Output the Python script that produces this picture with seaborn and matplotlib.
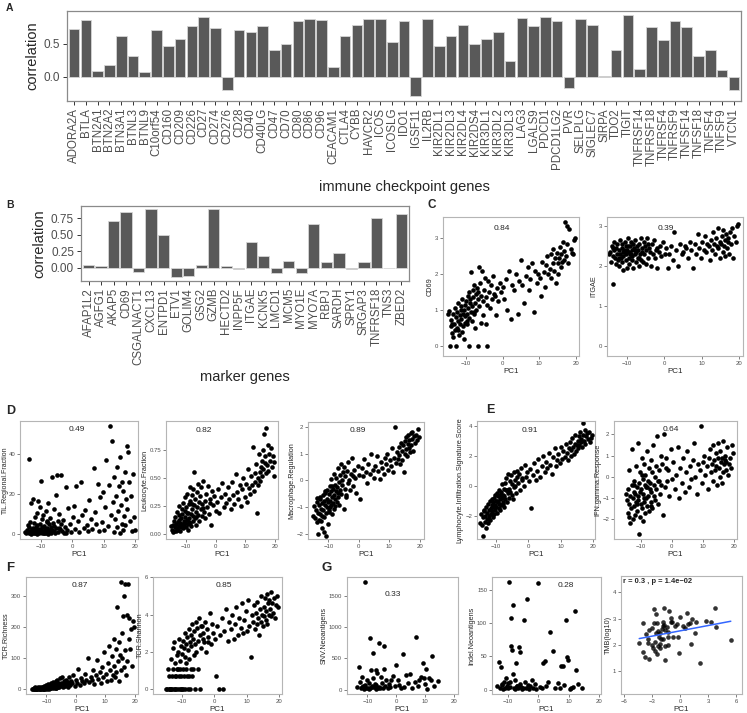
import matplotlib
matplotlib.use("Agg")
import matplotlib.pyplot as plt
from matplotlib.ticker import FormatStrFormatter
import seaborn as sns

sns.set_theme(style="white")
plt.rcParams["font.family"] = ["Liberation Sans", "DejaVu Sans"]

W, H = 747, 713

# --- A: immune checkpoint genes vs PC1 ---
checkpoint_genes = [
    "ADORA2A", "BTLA", "BTN2A1", "BTN2A2", "BTN3A1", "BTNL3", "BTNL9", "C10orf54",
    "CD160", "CD209", "CD226", "CD27", "CD274", "CD276", "CD28", "CD40", "CD40LG",
    "CD47", "CD70", "CD80", "CD86", "CD96", "CEACAM1", "CTLA4", "CYBB", "HAVCR2",
    "ICOS", "ICOSLG", "IDO1", "IGSF11", "IL2RB", "KIR2DL1", "KIR2DL3", "KIR2DL4",
    "KIR2DS4", "KIR3DL1", "KIR3DL2", "KIR3DL3", "LAG3", "LGALS9", "PDCD1", "PDCD1LG2",
    "PVR", "SELPLG", "SIGLEC7", "SIRPA", "TDO2", "TIGIT", "TNFRSF14", "TNFRSF18",
    "TNFRSF4", "TNFRSF9", "TNFSF14", "TNFSF18", "TNFSF4", "TNFSF9", "VTCN1",
]
checkpoint_corr = [
    0.72, 0.86, 0.09, 0.18, 0.61, 0.32, 0.07, 0.70,
    0.46, 0.57, 0.77, 0.91, 0.73, -0.20, 0.70, 0.67, 0.77,
    0.40, 0.50, 0.84, 0.88, 0.86, 0.14, 0.62, 0.79, 0.88,
    0.87, 0.52, 0.85, -0.30, 0.88, 0.46, 0.61, 0.78,
    0.50, 0.57, 0.67, 0.23, 0.89, 0.77, 0.91, 0.84,
    -0.18, 0.88, 0.78, 0.005, 0.41, 0.93, 0.11, 0.75,
    0.56, 0.85, 0.75, 0.31, 0.41, 0.10, -0.21,
]

# --- B: marker genes vs PC1 ---
marker_genes = [
    "AFAP1L2", "AGFG1", "AKAP5", "CD69", "CSGALNACT1", "CXCL13", "ENTPD1", "ETV1",
    "GOLIM4", "GSG2", "GZMB", "HECTD2", "INPP5F", "ITGAE", "KCNK5", "LMCD1", "MCM5",
    "MYO1E", "MYO7A", "RBPJ", "SARDH", "SPRY1", "SRGAP3", "TNFRSF18", "TNS3", "ZBED2",
]
marker_corr = [
    0.045, 0.035, 0.71, 0.845, -0.055, 0.88, 0.50, -0.14,
    -0.115, 0.045, 0.88, 0.025, -0.01, 0.39, 0.18, -0.075, 0.105,
    -0.07, 0.655, 0.095, 0.225, -0.01, 0.09, 0.745, -0.005, 0.805,
]

# --- C-F: per-sample PC1 and immune features ---
pc1 = [
    -14.6, -14.3, -14.1, -13.9, -13.7, -13.5, -13.4, -13.2, -13.0, -12.9,
    -12.7, -12.6, -12.4, -12.3, -12.1, -12.0, -11.8, -11.7, -11.5, -11.4,
    -11.3, -11.1, -11.0, -10.8, -10.7, -10.6, -10.4, -10.3, -10.2, -10.1,
    -9.9, -9.8, -9.6, -9.5, -9.4, -9.2, -9.1, -9.0, -8.8, -8.7,
    -8.6, -8.4, -8.3, -8.1, -8.0, -7.8, -7.7, -7.5, -7.4, -7.2,
    -7.1, -6.9, -6.8, -6.6, -6.4, -6.3, -6.1, -5.9, -5.8, -5.6,
    -5.4, -5.2, -5.0, -4.8, -4.6, -4.4, -4.1, -3.9, -3.6, -3.4,
    -3.1, -2.8, -2.5, -2.2, -1.9, -1.5, -1.2, -0.8, -0.4, 0.1,
    0.5, 0.9, 1.3, 1.8, 2.2, 2.7, 3.1, 3.6, 4.1, 4.6,
    5.0, 5.4, 5.9, 6.3, 6.8, 7.2, 7.6, 8.1, 8.5, 8.9,
    9.3, 9.7, 10.1, 10.5, 10.8, 11.2, 11.5, 11.9, 12.2, 12.5,
    12.8, 13.1, 13.3, 13.6, 13.8, 14.1, 14.3, 14.5, 14.8, 15.0,
    15.2, 15.4, 15.6, 15.8, 16.0, 16.2, 16.4, 16.6, 16.8, 17.0,
    17.2, 17.4, 17.6, 17.9, 18.2, 18.5, 18.8, 19.1, 19.4, 19.7,
    -14.9, -13.8, -12.2, -11.2, -9.7, -8.9, -7.9, -6.7, -4.3, -2.0,
]
cd69 = [
    0.98, 0.0, 0.55, 0.72, 0.35, 0.88, 0.25, 0.62, 1.05, 0.45,
    0.8, 0.0, 0.95, 0.5, 0.7, 1.2, 0.3, 0.85, 0.6, 1.1,
    0.75, 0.4, 1.3, 0.9, 0.55, 1.0, 0.2, 0.82, 1.15, 0.65,
    1.25, 0.9, 0.6, 1.4, 1.05, 0.78, 1.5, 0.0, 1.2, 0.95,
    2.05, 1.1, 0.7, 1.35, 1.55, 0.88, 1.7, 1.2, 0.5, 1.45,
    1.0, 1.6, 0.0, 1.3, 2.2, 1.1, 1.75, 0.65, 1.4, 2.1,
    1.25, 0.85, 1.55, 1.9, 0.6, 1.35, 0.0, 1.8, 1.5, 1.05,
    1.7, 1.3, 1.95, 1.45, 0.85, 1.6, 1.25, 1.75, 1.5, 1.65,
    1.3, 1.85, 1.0, 2.1, 0.75, 1.7, 1.55, 2.0, 0.9, 1.8,
    2.4, 1.7, 1.2, 1.95, 2.2, 1.55, 1.85, 2.3, 0.95, 2.1,
    1.75, 2.0, 1.9, 1.4, 2.35, 2.05, 1.65, 2.25, 2.5, 2.0,
    2.15, 2.55, 1.9, 2.3, 2.7, 2.1, 2.45, 1.75, 2.6, 2.3,
    2.0, 2.45, 2.75, 2.2, 2.55, 2.35, 2.9, 2.65, 2.4, 3.45,
    2.5, 2.85, 3.35, 2.3, 3.25, 2.7, 2.6, 2.55, 2.95, 3.0,
    0.9, 0.6, 0.45, 1.0, 0.7, 1.3, 0.95, 1.5, 1.15, 1.4,
]
itgae = [
    2.35, 2.1, 2.5, 1.55, 2.25, 2.4, 2.6, 2.2, 2.05, 2.45,
    2.3, 2.55, 2.15, 2.4, 2.0, 2.65, 2.3, 2.2, 2.45, 2.1,
    2.55, 2.25, 1.9, 2.4, 2.35, 2.6, 2.15, 2.5, 2.3, 1.95,
    2.4, 2.7, 2.2, 2.35, 2.05, 2.5, 2.3, 2.6, 2.15, 2.4,
    2.25, 2.55, 1.95, 2.45, 2.3, 2.65, 2.1, 2.35, 2.5, 2.2,
    2.4, 2.0, 2.55, 2.3, 2.15, 2.7, 2.35, 2.45, 2.1, 2.6,
    2.3, 2.5, 2.05, 2.4, 2.7, 2.2, 2.45, 2.35, 2.0, 2.55,
    2.3, 2.65, 2.2, 2.4, 1.95, 2.35, 2.5, 2.25, 2.6, 2.3,
    2.45, 1.95, 2.3, 2.5, 2.15, 2.85, 2.4, 2.0, 2.55, 2.3,
    2.35, 2.5, 2.45, 2.2, 2.6, 2.4, 1.95, 2.55, 2.3, 2.8,
    2.45, 2.2, 2.6, 2.4, 2.75, 2.35, 2.55, 2.5, 2.15, 2.65,
    2.4, 2.85, 2.55, 2.3, 2.7, 2.5, 2.95, 2.45, 2.6, 2.2,
    2.55, 2.75, 2.35, 2.9, 2.5, 2.65, 2.25, 2.8, 2.45, 2.6,
    2.7, 2.3, 2.85, 2.55, 2.95, 2.2, 2.75, 2.6, 3.0, 3.05,
    2.3, 2.45, 2.2, 2.35, 2.5, 2.3, 2.4, 2.2, 2.55, 2.45,
]
til_regional = [
    0.5, 2.1, 1.0, 4.5, 0.8, 37.5, 1.5, 6.0, 0.3, 15.5,
    2.5, 0.9, 17.5, 3.2, 1.2, 5.5, 0.6, 8.5, 2.0, 1.4,
    3.8, 0.4, 10.5, 1.8, 16.5, 2.6, 0.7, 5.0, 1.1, 13.5,
    26.8, 2.2, 0.5, 7.5, 3.5, 1.3, 9.5, 0.8, 4.2, 2.9,
    1.6, 11.5, 0.6, 3.0, 6.5, 1.9, 0.4, 15.5, 2.4, 5.2,
    1.0, 8.0, 3.6, 0.7, 28.5, 2.1, 5.8, 12.5, 1.5, 4.0,
    0.9, 19.5, 3.3, 29.5, 6.8, 1.2, 10.0, 2.7, 5.3, 29.5,
    1.8, 7.2, 0.6, 3.9, 23.5, 2.4, 13.0, 5.1, 1.4, 8.8,
    14.0, 2.6, 24.0, 6.5, 1.0, 26.0, 9.5, 3.3, 12.0, 4.8,
    1.9, 17.0, 7.8, 2.5, 33.0, 11.0, 5.2, 25.0, 1.5, 18.5,
    6.0, 21.0, 2.3, 13.5, 37.0, 4.0, 24.5, 54.0, 9.5, 46.5,
    16.0, 1.0, 28.5, 7.5, 19.0, 3.5, 33.5, 11.5, 24.0, 0.9,
    38.5, 14.5, 5.0, 26.0, 2.0, 21.5, 9.0, 31.0, 4.5, 17.5,
    44.0, 12.5, 41.0, 26.0, 6.5, 19.0, 1.5, 30.0, 8.5, 2.0,
    1.2, 3.8, 0.5, 4.5, 1.7, 0.9, 6.3, 2.2, 3.0, 0.7,
]
leukocyte = [
    0.04, 0.08, 0.02, 0.12, 0.06, 0.15, 0.03, 0.09, 0.2, 0.05,
    0.11, 0.04, 0.17, 0.07, 0.25, 0.1, 0.03, 0.14, 0.06, 0.22,
    0.09, 0.18, 0.05, 0.28, 0.12, 0.07, 0.21, 0.1, 0.33, 0.15,
    0.06, 0.24, 0.13, 0.36, 0.09, 0.19, 0.04, 0.27, 0.14, 0.42,
    0.1, 0.3, 0.18, 0.07, 0.35, 0.22, 0.12, 0.4, 0.16, 0.26,
    0.56, 0.14, 0.31, 0.2, 0.08, 0.38, 0.24, 0.17, 0.45, 0.29,
    0.12, 0.34, 0.22, 0.42, 0.16, 0.27, 0.48, 0.2, 0.3, 0.14,
    0.36, 0.24, 0.43, 0.18, 0.31, 0.08, 0.39, 0.26, 0.34, 0.21,
    0.29, 0.4, 0.19, 0.33, 0.46, 0.24, 0.36, 0.28, 0.42, 0.31,
    0.22, 0.47, 0.35, 0.27, 0.54, 0.38, 0.31, 0.44, 0.25, 0.4,
    0.5, 0.33, 0.45, 0.29, 0.58, 0.41, 0.36, 0.52, 0.44, 0.78,
    0.39, 0.55, 0.47, 0.63, 0.19, 0.5, 0.44, 0.72, 0.56, 0.48,
    0.6, 0.66, 0.52, 0.75, 0.58, 0.9, 0.64, 0.7, 0.55, 0.95,
    0.62, 0.8, 0.57, 0.72, 0.66, 0.77, 0.6, 0.7, 0.65, 0.52,
    0.07, 0.03, 0.13, 0.08, 0.19, 0.11, 0.27, 0.15, 0.23, 0.28,
]
macrophage = [
    -0.95, -1.4, -1.1, -0.8, -1.55, -2.0, -1.2, -0.9, -1.45, -0.7,
    -1.25, -0.6, -1.05, -1.5, -0.85, -1.3, -0.55, -1.1, -0.75, -1.35,
    -1.9, -0.9, -0.45, -1.2, -2.05, -0.7, -1.0, -0.35, -1.6, -0.8,
    -0.5, -1.15, -0.2, -0.75, -1.0, -0.4, -0.9, 0.05, -0.6, -1.25,
    -0.3, -0.85, 0.25, -0.55, -1.05, -0.15, -0.7, 0.1, -0.4, -0.8,
    -0.25, 0.45, -0.6, -0.05, -0.9, 0.2, -0.35, 0.6, -0.5, 0.0,
    -0.15, 0.3, -1.05, 0.5, -0.3, 0.15, -0.55, 0.35, -0.1, 0.7,
    0.0, -0.35, 0.25, 0.85, -0.2, 0.4, 0.1, -0.45, 0.55, 0.2,
    -0.7, 0.45, 0.15, 0.8, 0.3, -0.1, 0.6, 0.25, 1.0, 0.4,
    0.1, 0.55, 0.9, 0.35, 0.05, 0.7, 0.45, 0.25, 0.85, 0.6,
    1.0, 0.4, 0.75, 0.55, 1.2, 0.3, 0.85, 2.0, 0.65, 1.05,
    0.8, 1.25, 0.95, 0.6, 1.4, 1.1, 0.75, 1.3, 0.3, 1.0,
    1.45, 1.15, 1.6, 0.9, 1.35, 1.7, 1.2, 1.5, 1.05, 1.75,
    1.3, 1.55, 1.8, 1.1, 1.65, 1.4, 1.7, 1.5, 1.9, 1.6,
    -1.3, -0.65, -1.75, -0.4, -1.1, -0.2, -0.95, -0.45, -0.6, 0.15,
]
lymphocyte = [
    -1.9, -2.6, -2.1, -3.3, -1.6, -2.4, -2.0, -2.8, -1.4, -2.2,
    -1.8, -2.5, -1.2, -2.0, -1.6, -2.3, -1.0, -1.9, -1.5, -0.9,
    -1.7, -1.1, -2.1, -1.4, -0.8, -1.9, -1.3, -0.6, -1.6, -1.0,
    -1.4, -0.5, -1.8, -1.1, -0.7, -1.5, -0.3, -1.2, -0.9, -1.6,
    -0.4, -1.3, -0.8, 0.1, -1.1, -0.6, -0.2, -1.4, -0.7, 0.2,
    -0.9, -0.3, 0.5, -1.1, -0.5, 0.8, -0.2, -0.8, 0.3, -0.4,
    0.7, -0.6, 0.1, -0.9, 0.9, -0.1, 0.4, -0.5, 0.6, 1.0,
    0.2, 0.8, -0.3, 1.2, 0.5, 0.0, 1.4, 0.6, 0.9, 0.3,
    1.1, -1.5, 0.7, 1.5, 0.4, 1.0, 1.8, 0.6, 1.3, 2.0,
    0.9, 1.6, 1.2, 2.2, 1.4, 0.8, 1.9, 2.5, 1.3, 1.7,
    2.1, 1.5, 2.6, 1.8, 2.3, 1.9, 2.8, 2.2, 1.7, 2.5,
    2.9, 2.0, 2.4, 3.2, 2.6, 2.1, 2.8, 3.4, 2.3, 2.7,
    3.0, 2.5, 3.3, 2.7, 3.6, 2.9, 3.1, 2.6, 3.4, 4.2,
    3.0, 3.7, 2.8, 3.3, 3.5, 3.1, 3.6, 2.9, 3.2, 3.4,
    -2.5, -1.7, -2.2, -1.3, -1.0, -0.6, -1.2, -0.3, 0.0, 0.4,
]
ifn_gamma = [
    -1.1, -0.6, -1.7, 0.3, -1.3, -2.2, -0.9, -1.5, -0.4, 1.3,
    -1.0, -2.0, -0.7, -1.4, -0.2, -1.8, -0.8, 0.5, -1.2, -0.5,
    -1.6, -0.9, 1.6, -1.1, -0.3, -2.7, -0.7, -1.9, 0.2, -1.3,
    -0.6, -1.5, 0.9, -0.8, -2.1, -0.1, -1.2, 0.6, -0.4, -1.7,
    0.1, -1.0, -0.5, 1.2, -1.4, -0.2, -0.9, 0.4, -1.6, -0.6,
    -0.3, 0.8, -1.2, -0.7, 0.2, -1.5, 1.5, -0.4, -0.9, 0.0,
    -1.1, 0.5, -0.6, 1.9, -0.2, -1.3, 0.3, -0.8, 1.0, -0.4,
    0.6, -1.8, 2.0, -0.5, 0.9, -0.2, 0.3, -0.9, 1.3, -0.1,
    0.7, -0.6, 0.1, 1.4, -1.0, 0.4, -0.3, 0.9, -0.7, 0.2,
    1.2, -0.5, 0.5, -0.1, 0.8, 1.6, 0.0, -0.8, 0.6, 0.3,
    2.4, -0.3, 0.7, 1.0, 0.1, 0.5, -0.6, 0.9, 1.3, 0.2,
    0.6, 1.5, -0.2, 0.8, 0.3, 1.1, 0.5, -0.4, 0.9, 1.6,
    0.4, 0.0, 1.2, 0.7, -0.3, 0.9, 1.7, 0.2, 0.6, 0.8,
    1.0, 0.3, 0.7, 1.4, 0.1, 0.6, 0.9, 0.4, 1.5, 1.1,
    -0.8, -1.9, -0.4, -1.3, 0.1, -1.0, -0.5, -1.4, -0.2, 0.4,
]
tcr_richness = [
    0, 2, 0, 5, 1, 0, 3, 1, 0, 6,
    2, 0, 4, 1, 8, 0, 3, 1, 5, 2,
    0, 7, 2, 1, 10, 3, 0, 6, 2, 12,
    4, 1, 9, 3, 15, 2, 6, 0, 11, 5,
    3, 18, 7, 2, 13, 5, 22, 8, 4, 16,
    10, 6, 25, 3, 14, 30, 8, 19, 5, 12,
    35, 9, 20, 14, 40, 6, 25, 18, 11, 30,
    15, 22, 8, 38, 12, 27, 18, 45, 10, 30,
    20, 65, 12, 35, 25, 18, 50, 30, 100, 22,
    40, 28, 60, 15, 45, 95, 32, 55, 20, 70,
    38, 120, 50, 25, 85, 140, 60, 30, 105, 45,
    75, 160, 40, 130, 55, 265, 90, 25, 150, 110,
    60, 345, 100, 180, 235, 70, 300, 125, 340, 45,
    240, 90, 340, 160, 230, 130, 195, 75, 220, 200,
    1, 0, 3, 1, 6, 2, 9, 4, 12, 20,
]
tcr_shannon = [
    0, 1.1, 0, 0.69, 0, 1.6, 0, 0.69, 0, 2.2,
    1.1, 0, 2.5, 0, 1.39, 0.69, 0, 1.8, 1.1, 0,
    2.0, 0.69, 2.7, 0, 1.1, 1.5, 0, 2.3, 0.69, 1.9,
    0, 2.6, 1.1, 2.2, 0.69, 3.0, 0, 1.7, 2.4, 1.1,
    2.8, 0.69, 2.1, 0, 3.2, 1.6, 2.5, 0, 2.9, 1.1,
    2.3, 3.5, 0.69, 2.7, 1.8, 3.1, 0, 2.4, 3.6, 2.0,
    3.3, 1.1, 2.6, 3.8, 0, 2.9, 2.2, 3.4, 2.7, 3.0,
    2.5, 3.6, 2.0, 3.2, 2.8, 4.1, 2.4, 3.5, 3.0, 2.7,
    0.69, 3.4, 0, 2.9, 3.8, 0, 3.1, 4.3, 2.6, 3.6,
    3.2, 4.0, 2.7, 3.5, 4.4, 2.9, 3.8, 3.3, 4.6, 3.0,
    3.7, 4.2, 3.1, 4.8, 3.4, 1.7, 4.0, 3.6, 4.5, 3.2,
    4.1, 3.5, 4.7, 3.8, 2.9, 4.3, 3.6, 5.0, 4.0, 3.4,
    4.4, 3.9, 4.9, 3.7, 4.2, 5.1, 3.5, 4.6, 4.0, 4.8,
    4.3, 5.2, 3.9, 4.6, 4.1, 4.9, 3.8, 4.5, 5.0, 4.4,
    0, 0, 0.69, 1.1, 0, 1.39, 0.69, 1.1, 3.4, 2.5,
]

# --- G: neoantigens and TMB ---
neo_pc1 = [
    -13.5, -13.0, -12.6, -12.3, -12.0, -11.6, -11.2, -11.0, -10.7, -10.4,
    -10.1, -9.8, -9.5, -9.3, -9.0, -8.8, -8.6, -8.4, -8.2, -8.0,
    -7.7, -7.5, -7.2, -7.0, -6.7, -6.4, -6.1, -5.9, -5.6, -5.3,
    -5.0, -4.7, -4.4, -4.1, -3.8, -3.4, -3.0, -2.6, -2.2, -1.7,
    -1.2, -0.6, 0.0, 0.5, 1.1, 1.7, 2.2, 2.6, 3.2, 4.0,
    4.8, 5.6, 6.4, 7.0, 7.5, 8.0, 8.6, 9.1, 9.5, 9.9,
    10.3, 10.8, 11.4, 12.0, 12.5, 13.0, 14.5, -11.8, -9.2, -6.9,
]
snv_neo = [
    40, 370, 120, 30, 210, 60, 15, 1720, 80, 20,
    150, 35, 100, 10, 830, 320, 60, 45, 580, 180,
    45, 90, 320, 15, 270, 30, 740, 50, 20, 210,
    110, 30, 330, 700, 60, 160, 20, 90, 40, 150,
    220, 60, 390, 150, 80, 30, 570, 40, 230, 100,
    250, 30, 120, 850, 60, 150, 200, 420, 180, 90,
    335, 5, 190, 160, 532, 60, 133, 50, 25, 70,
]
indel_neo = [
    5, 42, 2, 34, 8, 1, 12, 3, 18, 6,
    2, 10, 162, 4, 108, 65, 60, 127, 24, 3,
    1, 14, 40, 6, 2, 64, 9, 57, 4, 1,
    3, 105, 12, 2, 137, 7, 1, 5, 15, 3,
    8, 1, 160, 4, 2, 40, 43, 6, 12, 87,
    58, 3, 10, 2, 35, 35, 7, 105, 49, 45,
    1, 3, 4, 118, 30, 9, 2, 7, 12, 5,
]
tmb_pc1 = [
    -4.4, -4.0, -3.7, -4.0, -3.8, -3.3, -3.5, -3.3, -3.0, -2.8,
    -2.6, -2.8, -2.5, -2.7, -2.9, -2.7, -2.5, -2.4, -2.3, -2.2,
    -2.2, -2.1, -1.9, -1.9, -1.8, -1.6, -1.6, -1.4, -1.3, -1.3,
    -1.2, -1.0, -0.9, -0.8, -0.4, 0.0, -0.1, 0.5, 0.7, 0.8,
    1.0, 1.1, 1.7, 1.6, 2.1, 2.8, 3.3, 3.7, 3.8, 5.4,
    -3.5, -2.6, -2.0, -1.7, -1.9, -1.0, -0.6, -1.3, -2.2, -3.0,
    -0.3, 0.3, 1.3, -1.6, -2.4,
]
tmb_log10 = [
    2.06, 2.82, 2.41, 1.72, 1.53, 1.46, 2.22, 2.57, 2.62, 3.36,
    3.18, 2.82, 2.82, 2.09, 1.87, 1.75, 1.66, 2.54, 2.29, 2.03,
    1.86, 2.22, 2.73, 2.87, 3.39, 1.94, 1.40, 2.67, 2.47, 2.30,
    3.28, 3.01, 2.87, 2.29, 2.79, 3.05, 1.68, 2.62, 3.23, 2.80,
    2.82, 2.03, 2.85, 2.44, 1.30, 2.91, 2.85, 3.39, 2.67, 2.19,
    2.05, 2.45, 2.60, 2.75, 2.20, 2.85, 2.70, 2.00, 2.45, 2.00,
    2.30, 2.70, 3.00, 2.55, 1.95,
]

fig = plt.figure(figsize=(W / 100, H / 100), dpi=100)


def px_axes(l, t, r, b):
    """Axes from pixel box (left, top, right, bottom) measured on the reference."""
    return fig.add_axes([l / W, 1 - b / H, (r - l) / W, (b - t) / H])


def bar_panel(box, genes, corr, ylim, yticks, fmt, xlabel, label_size, xpad):
    ax = px_axes(*box)
    sns.barplot(x=genes, y=corr, color="#595959", saturation=1, width=0.9,
                edgecolor="#d6d6d6", linewidth=0.6, ax=ax)
    ax.set_xlim(-0.6, len(genes) - 0.4)
    ax.set_ylim(*ylim)
    ax.set_yticks(yticks)
    ax.yaxis.set_major_formatter(FormatStrFormatter(fmt))
    ax.tick_params(axis="both", bottom=True, left=True, length=3, width=0.7,
                   color="#333333", labelcolor="#4d4d4d", labelsize=8.5, pad=2)
    ax.tick_params(axis="x", rotation=90, labelsize=label_size)
    ax.set_xlabel(xlabel, fontsize=10.5, labelpad=xpad)
    ax.set_ylabel("correlation", fontsize=10.5, labelpad=3)
    for sp in ax.spines.values():
        sp.set_color("#8a8a8a")
        sp.set_linewidth(0.9)
    return ax


def scatter_style(ax, ylabel, xlim, ylim, xticks, yticks, fmt=None):
    ax.set_xlim(*xlim)
    ax.set_ylim(*ylim)
    ax.set_xticks(xticks)
    ax.set_yticks(yticks)
    if fmt:
        ax.yaxis.set_major_formatter(FormatStrFormatter(fmt))
    ax.tick_params(axis="both", bottom=True, left=True, length=2, width=0.5,
                   color="#4d4d4d", labelcolor="#4d4d4d", labelsize=4.3, pad=1.5)
    ax.set_xlabel("PC1", fontsize=5.8, labelpad=1.5)
    ax.set_ylabel(ylabel, fontsize=5.2, labelpad=1.0)
    for sp in ax.spines.values():
        sp.set_color("#b5b5b5")
        sp.set_linewidth(0.8)


def scatter_panel(box, x, y, ylabel, r_text, r_pos, xlim, ylim, xticks, yticks, fmt=None):
    ax = px_axes(*box)
    sns.scatterplot(x=x, y=y, color="black", s=11, linewidth=0, ax=ax)
    scatter_style(ax, ylabel, xlim, ylim, xticks, yticks, fmt)
    ax.text(r_pos[0], r_pos[1], r_text, transform=ax.transAxes,
            ha="center", va="center", fontsize=6)
    return ax


pc_ticks = [-10, 0, 10, 20]

bar_panel((67, 11, 741, 101), checkpoint_genes, checkpoint_corr,
          (-0.37, 0.995), [0.0, 0.5], "%.1f", "immune checkpoint genes", 8.3, 8)
bar_panel((81, 206, 409, 281), marker_genes, marker_corr,
          (-0.195, 0.93), [0.0, 0.25, 0.5, 0.75], "%.2f", "marker genes", 8.3, 4)

# C
scatter_panel((443, 217, 579, 356), pc1, cd69, "CD69", "0.84", (0.43, 0.92),
              (-16.2, 20.8), (-0.28, 3.59), pc_ticks, [0, 1, 2, 3])
scatter_panel((607, 217, 743, 356), pc1, itgae, "ITGAE", "0.39", (0.43, 0.92),
              (-15.4, 21.1), (-0.25, 3.22), pc_ticks, [0, 1, 2, 3])
# D
ax_d1 = scatter_panel((20, 421, 138, 539), pc1, til_regional, "TIL.Regional.Fraction", "0.49",
                      (0.48, 0.93), (-16.5, 20.8), (-2.3, 56.6), pc_ticks, [0, 20, 40])
ax_d1.yaxis.label.set_fontsize(5.0)
ax_d1.yaxis.set_label_coords(-0.092, 0.5)
scatter_panel((166, 421, 278, 539), pc1, leukocyte, "Leukocyte.Fraction", "0.82", (0.34, 0.92),
              (-16.6, 20.9), (-0.045, 1.015), pc_ticks, [0, 0.25, 0.5, 0.75], "%.2f")
scatter_panel((308, 422, 424, 539), pc1, macrophage, "Macrophage.Regulation", "0.89", (0.43, 0.93),
              (-16.7, 21.4), (-2.17, 2.17), pc_ticks, [-2, -1, 0, 1, 2])
# E
scatter_panel((477, 421, 595, 539), pc1, lymphocyte, "Lymphocyte.Infiltration.Signature.Score", "0.91",
              (0.45, 0.92), (-15.9, 20.6), (-3.53, 4.3), pc_ticks, [-2, 0, 2, 4])
scatter_panel((614, 421, 737, 539), pc1, ifn_gamma, "IFN.gamma.Response", "0.64", (0.46, 0.925),
              (-18.7, 21.0), (-2.94, 2.63), pc_ticks, [-2, -1, 0, 1, 2])
# F
scatter_panel((26, 577, 138, 694), pc1, tcr_richness, "TCR.Richness", "0.87", (0.48, 0.93),
              (-16.9, 21.1), (-16, 361), pc_ticks, [0, 100, 200, 300])
scatter_panel((153, 577, 282, 694), pc1, tcr_shannon, "TCR.Shannon", "0.85", (0.55, 0.93),
              (-19.0, 20.9), (-0.27, 6.02), pc_ticks, [0, 2, 4, 6])
# G
scatter_panel((347, 577, 458, 694), neo_pc1, snv_neo, "SNV.Neoantigens", "0.33", (0.41, 0.85),
              (-17.1, 21.4), (-69, 1803), pc_ticks, [0, 500, 1000, 1500])
scatter_panel((492, 577, 601, 694), neo_pc1, indel_neo, "Indel.Neoantigens", "0.28", (0.68, 0.93),
              (-15.2, 20.6), (-6.5, 169.5), pc_ticks, [0, 50, 100, 150])

ax = px_axes(621, 576, 742, 694)
sns.regplot(x=tmb_pc1, y=tmb_log10, ci=None, ax=ax,
            scatter_kws=dict(s=11, color="black", linewidths=0),
            line_kws=dict(color="#3366FF", lw=1.1))
scatter_style(ax, "TMB(log10)", (-6.35, 6.6), (0.11, 4.63), [-6, -3, 0, 3, 6], [1, 2, 3, 4])
ax.text(0.02, 0.985, "r = 0.3 , p = 1.4e\u221202", transform=ax.transAxes,
        ha="left", va="top", fontsize=5.4, fontweight="bold")

# panel letters
for letter, (x, y), size in [("A", (6, 8), 7.5), ("B", (6, 205), 7.5), ("C", (428, 205), 8.5),
                             ("D", (6, 411), 9), ("E", (486, 410), 9),
                             ("F", (6, 568), 9.5), ("G", (322, 568), 9.5)]:
    fig.text(x / W, 1 - y / H, letter, fontsize=size, fontweight="bold", ha="left", va="center")

fig.savefig("out.png", dpi=100)
